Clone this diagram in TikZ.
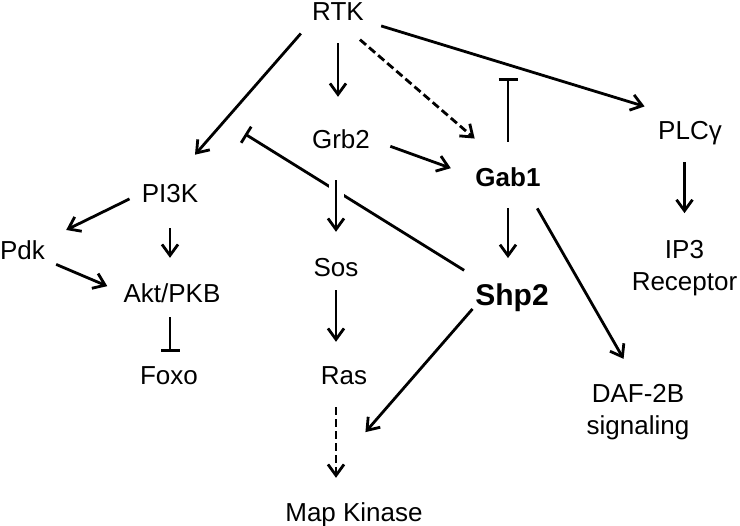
\documentclass[tikz,border=0pt]{standalone}
\usepackage{fontspec}
\setmainfont{Liberation Sans}
\usetikzlibrary{arrows.meta,calc}

\begin{document}
\begin{tikzpicture}[
  x=1pt,y=-1pt,
  every node/.style={inner sep=0pt,font=\fontsize{26}{32}\selectfont},
  lbl/.style={text height=19pt,text depth=0pt},
  key/.style={lbl,font=\fontsize{26}{32}\selectfont\bfseries},
  arr/.style={-{Straight Barb[length=11pt,width=16pt]},line width=2.8pt},
  dasharr/.style={arr,dash pattern=on 8pt off 4pt},
  inh/.style={-{Bar[width=19pt]},line width=2.8pt}
]
\useasboundingbox[fill=white] (0,0) rectangle (740,526);
\node[lbl] (rtk) at (338,11) {RTK};
\node[lbl] (grb) at (341,139) {Grb2};
\node[key] (gab) at (508,177) {Gab1};
\node[lbl] (plc) at (690,130) {PLCγ};
\node[lbl] (pik) at (170,193) {PI3K};
\node[lbl] (pdk) at (22.5,250) {Pdk};
\node[lbl] (akt) at (172,293) {Akt/PKB};
\node[lbl] (foxo) at (169,375) {Foxo};
\node[lbl] (sos) at (336,267) {Sos};
\node[lbl] (ras) at (344,375) {Ras};
\node[lbl] (mapk) at (354,512) {Map Kinase};
\node[key,font=\fontsize{30}{36}\selectfont\bfseries,text height=21.5pt] (shp) at (512,295) {Shp2};
\node[align=center] (ipr) at (684.5,268.6) {IP3\\Receptor};
\node[align=center] (daf) at (638,412) {DAF-2B\\signaling};
\coordinate (gabstop) at (508,78);
\coordinate (pistop) at (245,134);
\draw[arr,shorten <=17pt,shorten >=38pt] (rtk.south west) -- (pik.north);
\draw[arr,shorten <=22.5pt,shorten >=32.5pt] (rtk.south) -- (rtk.south |- grb.north);
\draw[dasharr,shorten <=29pt,shorten >=44pt] (rtk.south) -- (gab.north);
\draw[arr,shorten <=18pt,shorten >=47.5pt] (rtk.south east) -- (plc.north);
\draw[arr,shorten <=21.5pt,shorten >=26pt] (grb.east) -- (gab.west);
\draw[inh,shorten <=25.5pt] (gab.north) -- (gab.north |- gabstop);
\draw[arr,shorten <=13.5pt,shorten >=23.5pt] (pik.west) -- (pdk.north east);
\draw[arr,shorten <=25.5pt,shorten >=25.5pt] (pik.south) -- (pik.south |- akt.north);
\draw[arr,shorten <=12pt,shorten >=17.5pt] (pdk.south east) -- (akt.west);
\draw[inh,shorten <=14.5pt,shorten >=13.5pt] (pik.south |- akt.south) -- (pik.south |- foxo.north);
\draw[inh,shorten <=26pt] (shp.157) -- (pistop);
\draw[arr,shorten <=31.5pt,shorten >=25.5pt,preaction={draw=white,line width=15pt,-}] (grb.south -| sos.north) -- (sos.north);
\draw[arr,shorten <=13.5pt,shorten >=23.5pt] (sos.south) -- (sos.south |- ras.north);
\draw[dasharr,shorten <=22.5pt,shorten >=24.5pt] (ras.south -| sos.south) -- (sos.south |- mapk.north);
\draw[arr,shorten <=4pt,shorten >=93pt] (shp.south west) -- ($(mapk.north west)!0.14!(mapk.north east)$);
\draw[arr,shorten <=21.5pt,shorten >=26pt] (gab.south) -- (gab.south |- shp.north);
\draw[arr,shorten <=25pt,shorten >=29pt] (gab.-30) -- (daf.north);
\draw[arr,shorten <=22.5pt,shorten >=27.5pt] (plc.south -| ipr.north) -- (ipr.north);
\end{tikzpicture}
\end{document}
